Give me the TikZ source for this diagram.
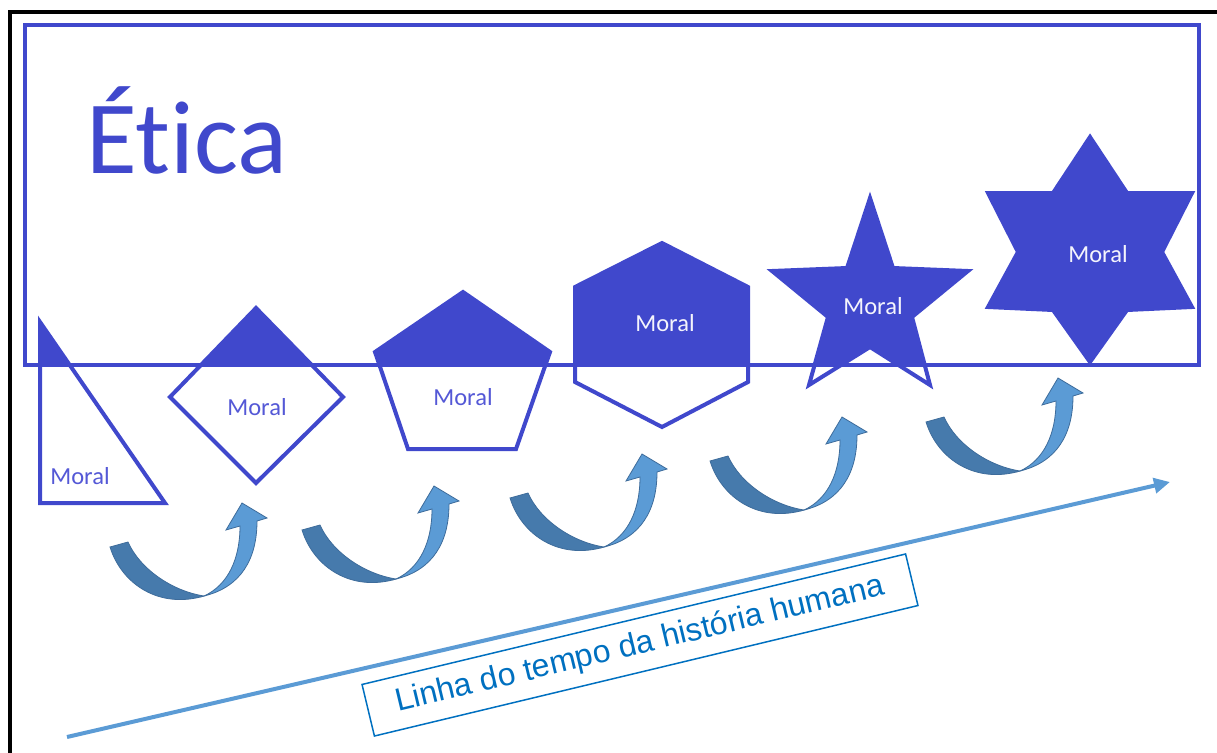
\documentclass[tikz,border=0pt]{standalone}
\usepackage{fontspec}
\setmainfont{Carlito}[Ligatures=NoCommon]
\newfontfamily\arialfont{Liberation Sans}
\usetikzlibrary{arrows.meta,calc}
\definecolor{eticablue}{RGB}{64,72,204}
\definecolor{moraltext}{RGB}{84,88,214}
\definecolor{curvedark}{RGB}{70,122,172}
\definecolor{curvelight}{RGB}{91,155,213}
\definecolor{curveedge}{RGB}{62,108,155}
\definecolor{boxblue}{RGB}{0,112,192}

\begin{document}
\begin{tikzpicture}[x=1pt, y=-1pt]
% Definition of styles:
\tikzset{%
  frame/.style     = {draw=black, line width=4.5pt},
  eticabox/.style  = {draw=eticablue, line width=4pt},
  titulo/.style    = {font=\fontsize{104}{114}\selectfont, text=eticablue, inner sep=0pt},
  moralfill/.style = {fill=eticablue},
  moraledge/.style = {draw=eticablue, line width=4pt, line join=miter},
  moral/.style     = {font=\fontsize{24.5}{28}\selectfont, text=moraltext}, % Moral outside
  moralin/.style   = {moral, text=white!94!eticablue}, % Moral on the fill
  bandback/.style  = {fill=curvedark, draw=curveedge, line width=0.8pt},
  bandfront/.style = {fill=curvelight, draw=curveedge, line width=0.8pt},
  timeline/.style  = {draw=curvelight, line width=4pt, -{Triangle[length=16pt,width=15pt]}},
  timebox/.style   = {draw=boxblue, line width=1.5pt, text=boxblue, rotate=13.5,
                      font=\arialfont\fontsize{32}{35}\selectfont,
                      minimum width=559pt, minimum height=53pt, inner sep=0pt}
}
\useasboundingbox (0,0) rectangle (1217,752);
\draw[frame] (10,770) -- (10,12) -- (1240,12);
\draw[eticabox] (25,25) rectangle (1199,365);
\node[titulo, anchor=base west] (etica) at (86,173) {Ética};

% the moral shapes, filled above the line
\foreach \shp in {%
  {(40,322) -- (40,503) -- (165,503) -- cycle},
  {(256,308) -- (343,397) -- (256,483) -- (170,397) -- cycle},
  {(463,292) -- (550,352) -- (516,449) -- (408,449) -- (375,352) -- cycle},
  {(662,243) -- (748,287) -- (748,382) -- (662,427) -- (575,382) -- (575,287) -- cycle},
  {(870,198) -- (893,268) -- (968,271) -- (912,317) -- (930,385) -- (870,347) -- (809,385) -- (828,317) -- (772,271) -- (847,268) -- cycle},
  {(1090,137) -- (1127,193) -- (1192,193) -- (1162,252) -- (1192,307) -- (1127,310) -- (1090,362) -- (1053,310) -- (988,307) -- (1018,252) -- (988,193) -- (1053,193) -- cycle}}
{
  \begin{scope}
    \clip (25,25) rectangle (1199,365);
    \fill[moralfill] \shp;
  \end{scope}
  \draw[moraledge] \shp;
}

\draw
  node [moral] (moral1) at (80,476) {Moral}
  node [moral] (moral2) at (257,407) {Moral}
  node [moral] (moral3) at (463,397) {Moral}
  node [moralin] (moral4) at (665,323) {Moral}
  node [moralin] (moral5) at (873,306) {Moral}
  node [moralin] (moral6) at (1098,254) {Moral};

% curved arrows
\foreach \sx/\sy in {110/547, 302/530, 510/498, 710/461, 926/422} {
  \begin{scope}[shift={(\sx,\sy)}]
    \filldraw[bandback] (0,0) .. controls (12,38) and (50,62) .. (94,49)
      .. controls (62,44) and (30,22) .. (18,-5) -- cycle;
    \filldraw[bandfront] (94,49) .. controls (131,40) and (147,12) .. (147,-26)
      -- (157,-29) -- (132,-44) -- (116,-17) -- (130,-21)
      .. controls (130,12) and (118,38) .. (94,49) -- cycle;
  \end{scope}
}

\coordinate (t0) at (67,737);
\coordinate (t1) at (1170,482);
\draw[timeline] (t0) -- (t1);
\node[timebox] (linha) at (640,645) {Linha do tempo da história humana\hspace{14pt}};
\end{tikzpicture}
\end{document}
